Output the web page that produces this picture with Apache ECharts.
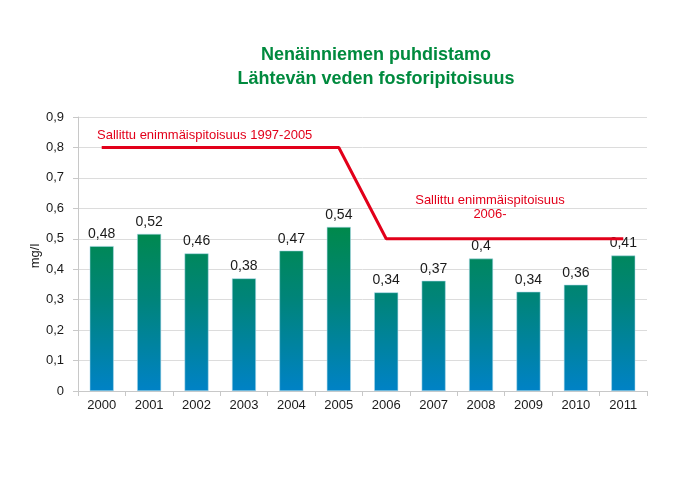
<!DOCTYPE html>
<html>
<head>
<meta charset="utf-8">
<script src="https://cdn.jsdelivr.net/npm/echarts@6/dist/echarts.min.js"></script>
<style>html,body{margin:0;padding:0;background:#fff}#c{width:695px;height:491px}</style>
</head>
<body>
<div id="c"></div>
<script>
var years = ['2000','2001','2002','2003','2004','2005','2006','2007','2008','2009','2010','2011'];
var barValues = [0.476, 0.516, 0.452, 0.370, 0.461, 0.539, 0.324, 0.362, 0.435, 0.326, 0.349, 0.445];
var barLabels = ['0,48','0,52','0,46','0,38','0,47','0,54','0,34','0,37','0,4','0,34','0,36','0,41'];
var limitValues = [0.8, 0.8, 0.8, 0.8, 0.8, 0.8, 0.5, 0.5, 0.5, 0.5, 0.5, 0.5];
var titleLines = ['Nenäinniemen puhdistamo', 'Lähtevän veden fosforipitoisuus'];
var yName = 'mg/l';
var note1 = 'Sallittu enimmäispitoisuus 1997-2005';
var note2 = ['Sallittu enimmäispitoisuus', '2006-'];

var font = 'Liberation Sans';
var chart = echarts.init(document.getElementById('c'));
chart.setOption({
  backgroundColor: '#fff',
  animation: false,
  textStyle: { fontFamily: font },
  title: {
    text: titleLines.join('\n'),
    left: 371, top: 38, textAlign: 'center',
    textStyle: { color: '#008a3e', fontSize: 18, fontWeight: 'bold', lineHeight: 24, fontFamily: font }
  },
  grid: { left: 78, right: 48, top: 117, bottom: 100 },
  xAxis: {
    type: 'category', data: years,
    axisLine: { lineStyle: { color: '#c8c8c8' } },
    axisTick: { show: true, length: 5, lineStyle: { color: '#c8c8c8' } },
    axisLabel: { color: '#1a1a1a', fontSize: 13, margin: 8 }
  },
  yAxis: {
    type: 'value', min: 0, max: 0.9, interval: 0.1,
    axisLine: { show: true, lineStyle: { color: '#c8c8c8' } },
    axisTick: { show: true, length: 5, lineStyle: { color: '#c8c8c8' } },
    axisLabel: { color: '#1a1a1a', fontSize: 13, margin: 14,
      formatter: function (v) { return v === 0 ? '0' : v.toFixed(1).replace('.', ','); } },
    splitLine: { lineStyle: { color: '#dcdcdc' } }
  },
  series: [{
    type: 'bar', data: barValues, barWidth: 24,
    itemStyle: {
      borderColor: 'rgba(170,215,235,0.9)', borderWidth: 0.6,
      color: new echarts.graphic.LinearGradient(0, 225, 0, 391, [
        { offset: 0, color: '#00894a' },
        { offset: 0.45, color: '#00847a' },
        { offset: 1, color: '#0082c6' }
      ], true)
    },
    label: { show: true, position: 'top', distance: 5, color: '#1a1a1a', fontSize: 14,
      formatter: function (p) { return barLabels[p.dataIndex]; } }
  }, {
    type: 'line', data: limitValues, symbol: 'none', z: 5,
    lineStyle: { color: '#e2001a', width: 3 }
  }],
  graphic: [{
    type: 'text', x: 35, y: 256, rotation: Math.PI / 2,
    style: { text: yName, fill: '#1a1a1a', font: '13px ' + font, align: 'center', verticalAlign: 'middle' }
  }, {
    type: 'text', left: 97, top: 129,
    style: { text: note1, fill: '#e2001a', font: '13px ' + font }
  }, {
    type: 'text', x: 490, y: 193,
    style: { text: note2.join('\n'), fill: '#e2001a', font: '13px ' + font, align: 'center', lineHeight: 14 }
  }]
});
</script>
</body>
</html>
